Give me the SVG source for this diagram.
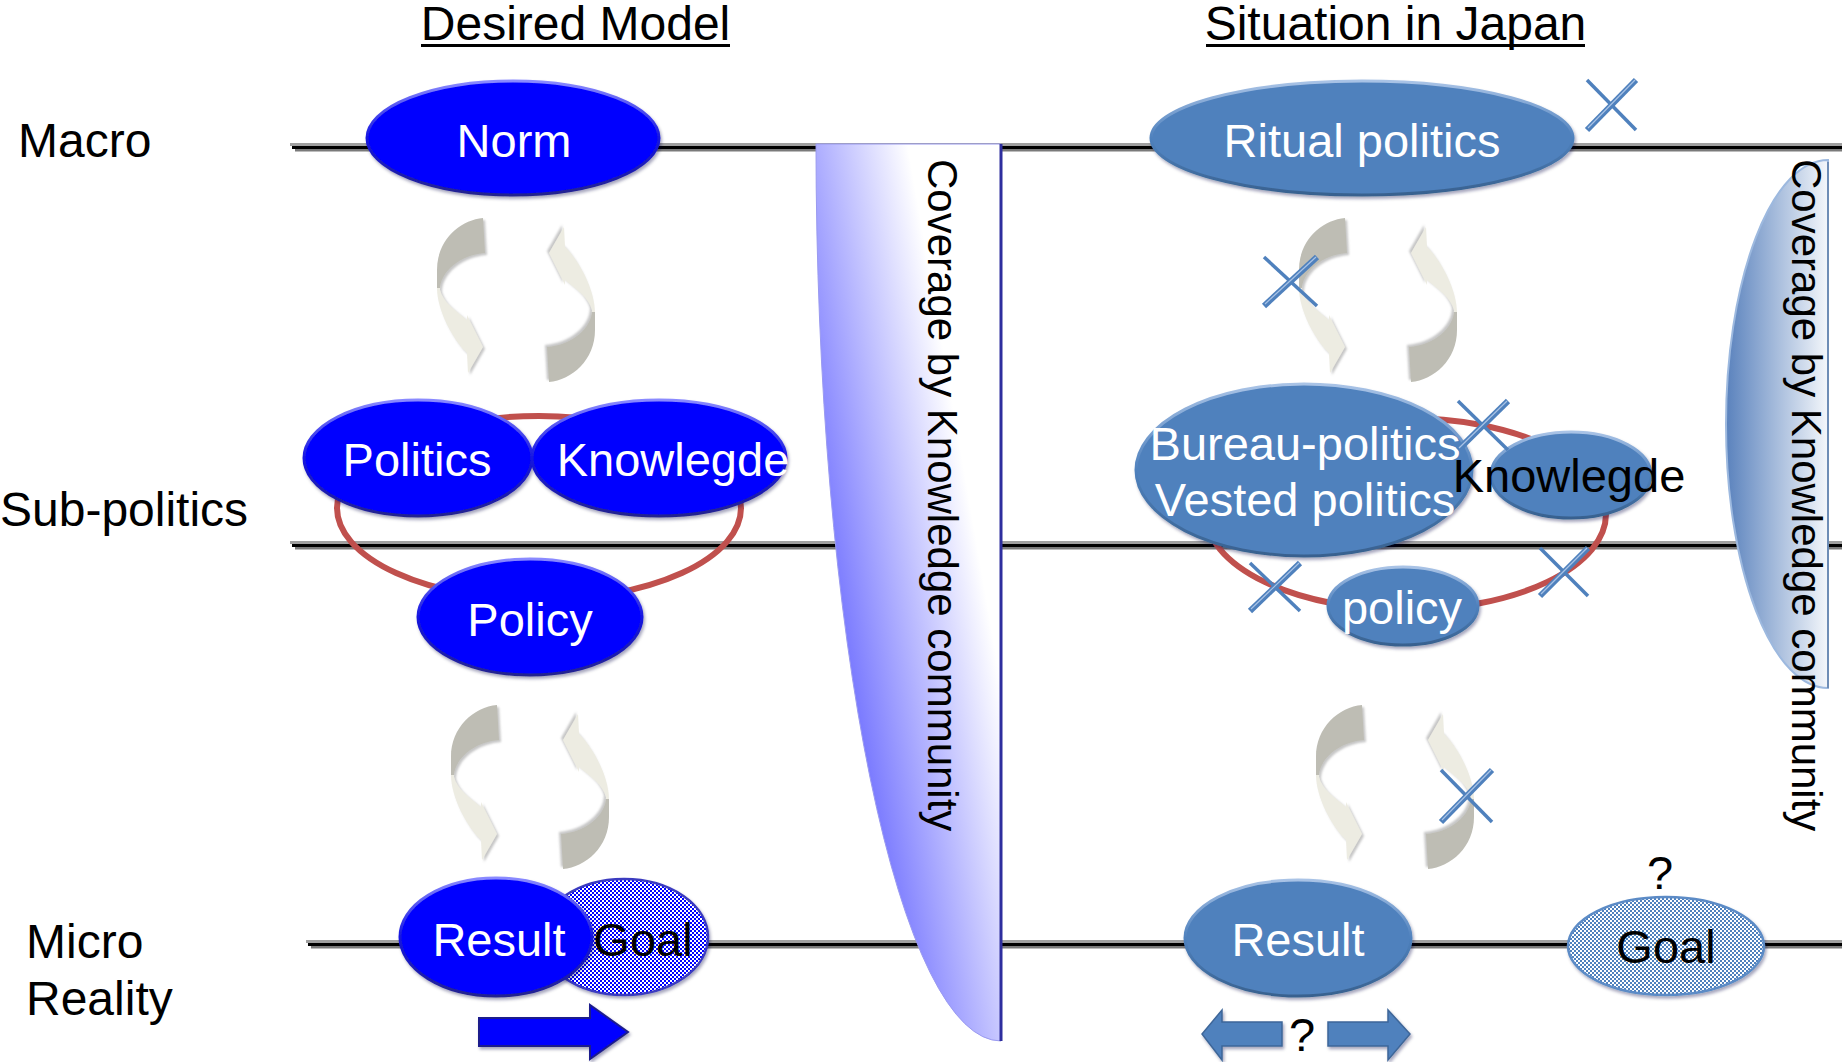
<svg xmlns="http://www.w3.org/2000/svg" width="1846" height="1062" viewBox="0 0 1846 1062">
<style>
text{font-family:"Liberation Sans",Arial,sans-serif}
.lbl{font-size:48px;fill:#000}
.ttl{font-size:48px;fill:#000;text-anchor:middle}
.nt{font-size:47px;fill:#fff;text-anchor:middle}
.nb{font-size:47px;fill:#000;text-anchor:middle}
.cov{font-size:42px;fill:#000}
.blue{fill:#0000FF;stroke:url(#rimB);stroke-width:3;filter:url(#sh)}
.steel{fill:#4F81BD;stroke:url(#rimS);stroke-width:3;filter:url(#sh)}
.ring{fill:none;stroke:#C0504D;stroke-width:6}
.xm{stroke:#4F81BD;stroke-linecap:butt}
.cyc{fill:url(#cycG);filter:url(#sh2)}
</style>
<defs>
<linearGradient id="rimB" x1="0" y1="0" x2="0" y2="1"><stop offset="0" stop-color="#8A8AFF"/><stop offset="0.5" stop-color="#1515E0"/><stop offset="1" stop-color="#23238F"/></linearGradient>
<linearGradient id="rimS" x1="0" y1="0" x2="0" y2="1"><stop offset="0" stop-color="#A9C3E6"/><stop offset="0.5" stop-color="#4F81BD"/><stop offset="1" stop-color="#38618F"/></linearGradient>
<linearGradient id="cycG" x1="0" y1="0" x2="0" y2="1"><stop offset="0" stop-color="#BEBDB4"/><stop offset="0.45" stop-color="#BEBDB4"/><stop offset="0.45" stop-color="#EDECE2"/><stop offset="1" stop-color="#EDECE2"/></linearGradient>
<linearGradient id="covL" gradientUnits="userSpaceOnUse" x1="800" y1="551" x2="973" y2="521"><stop offset="0" stop-color="#6060FF"/><stop offset="1" stop-color="#FFFFFF"/></linearGradient>
<linearGradient id="covR" x1="0" y1="0" x2="1" y2="0"><stop offset="0" stop-color="#5A82BD"/><stop offset="1" stop-color="#F4F7FB"/></linearGradient>
<pattern id="chkB" width="4" height="4" patternUnits="userSpaceOnUse"><rect width="4" height="4" fill="#fff"/><rect width="2" height="2" fill="#0000FF"/><rect x="2" y="2" width="2" height="2" fill="#0000FF"/></pattern>
<pattern id="chkS" width="4" height="4" patternUnits="userSpaceOnUse"><rect width="4" height="4" fill="#fff"/><rect width="2" height="2" fill="#4F81BD"/><rect x="2" y="2" width="2" height="2" fill="#4F81BD"/></pattern>
<filter id="sh" x="-10%" y="-10%" width="125%" height="130%"><feDropShadow dx="1.5" dy="2.5" stdDeviation="1.5" flood-color="#000040" flood-opacity="0.35"/></filter>
<filter id="sh2" x="-20%" y="-10%" width="150%" height="130%"><feDropShadow dx="2" dy="2" stdDeviation="1.2" flood-color="#808080" flood-opacity="0.45"/></filter>
<path id="cyc" d="M 58 8 C 35 10 12 30 12 60 L 12 78 C 12 100 28 130 42 143 L 43 163 L 58 137 L 42 105 L 42 110 C 30 100 18 92 15 80 C 15 62 35 45 60 43 Z"/>
<g id="lvl"><rect x="0" y="-4" width="1552" height="3" fill="#A0A0A0"/><rect x="2" y="-1" width="1550" height="3" fill="#000"/><rect x="5" y="2" width="1547" height="2.5" fill="#7A7A7A"/></g>
</defs>
<rect width="1846" height="1062" fill="#fff"/>

<g id="titles">
<text class="ttl" x="575.5" y="40">Desired Model</text>
<rect x="421" y="44" width="309" height="3" fill="#000"/>
<text class="ttl" x="1395.5" y="40">Situation in Japan</text>
<rect x="1206" y="44" width="379" height="3" fill="#000"/>
</g>

<g id="level-labels">
<text class="lbl" x="18" y="157">Macro</text>
<text class="lbl" x="0" y="526">Sub-politics</text>
<text class="lbl" x="26" y="958">Micro</text>
<text class="lbl" x="26" y="1015">Reality</text>
</g>

<g id="levels">
<use href="#lvl" x="290" y="147"/>
<use href="#lvl" x="290" y="545"/>
<g transform="translate(306 944) scale(0.9897 1)"><use href="#lvl"/></g>
</g>

<g id="rings">
<ellipse class="ring" cx="539" cy="508" rx="202" ry="92"/>
<ellipse class="ring" cx="1406" cy="514" rx="200" ry="96"/>
</g>

<g id="coverage-left">
<path d="M 816 144 L 1001 144 L 1001 1041 A 185 897 0 0 1 816 144 Z" fill="url(#covL)" stroke="#9A9AF0" stroke-width="1"/>
<line x1="1001" y1="144" x2="1001" y2="1041" stroke="#2E2E9E" stroke-width="3"/>
<text class="cov" transform="translate(928 159) rotate(90)">Coverage by Knowledge community</text>
</g>

<g id="coverage-right">
<path d="M 1828 160 A 102 264 0 0 0 1828 688 Z" fill="url(#covR)" stroke="#9DB9DF" stroke-width="2"/>
<line x1="1828" y1="162" x2="1828" y2="688" stroke="#5F7FA8" stroke-width="1.5"/>
<text class="cov" transform="translate(1792 159) rotate(90)">Coverage by Knowledge community</text>
</g>

<g id="connectors">
<g transform="translate(425 210)"><use href="#cyc" class="cyc"/><use href="#cyc" class="cyc" transform="rotate(180 91 90)"/></g>
<g transform="translate(439 697)"><use href="#cyc" class="cyc"/><use href="#cyc" class="cyc" transform="rotate(180 91 90)"/></g>
<g transform="translate(1287 210)"><use href="#cyc" class="cyc"/><use href="#cyc" class="cyc" transform="rotate(180 91 90)"/></g>
<g transform="translate(1304 697)"><use href="#cyc" class="cyc"/><use href="#cyc" class="cyc" transform="rotate(180 91 90)"/></g>
<polygon points="479,1018 590,1018 590,1005 628,1032 590,1059 590,1046 479,1046" fill="#0000FF" stroke="#1E1E8C" stroke-width="2" filter="url(#sh)"/>
<polygon points="1282,1022 1222,1022 1222,1010 1202,1034 1222,1060 1222,1046 1282,1046" fill="#4F81BD" stroke="#3E6699" stroke-width="1.5" filter="url(#sh)"/>
<polygon points="1328,1022 1388,1022 1388,1010 1410,1034 1388,1060 1388,1046 1328,1046" fill="#4F81BD" stroke="#3E6699" stroke-width="1.5" filter="url(#sh)"/>
</g>

<g id="node-norm"><ellipse class="blue" cx="513" cy="138" rx="146" ry="57"/><text class="nt" x="514" y="157">Norm</text></g>
<g id="node-politics"><ellipse class="blue" cx="418" cy="458" rx="114" ry="58"/><text class="nt" x="417" y="476">Politics</text></g>
<g id="node-knowledge"><ellipse class="blue" cx="659" cy="458" rx="127" ry="58"/><text class="nt" x="673" y="476">Knowlegde</text></g>
<g id="node-policy"><ellipse class="blue" cx="530" cy="617" rx="112" ry="58"/><text class="nt" x="530" y="636">Policy</text></g>
<g id="node-goal-left"><ellipse cx="624" cy="937" rx="84" ry="58" fill="url(#chkB)" stroke="#3A3AC0" stroke-width="2.5" filter="url(#sh)"/><text class="nb" x="643" y="956">Goal</text></g>
<g id="node-result-left"><ellipse class="blue" cx="496" cy="937" rx="96" ry="59"/><text class="nt" x="499" y="956">Result</text></g>

<g id="node-ritual"><ellipse class="steel" cx="1362" cy="138" rx="211" ry="57"/><text class="nt" x="1362" y="157">Ritual politics</text></g>
<g id="node-bureau"><ellipse class="steel" cx="1304" cy="470" rx="168" ry="86"/><text class="nt" x="1305" y="460">Bureau-politics</text><text class="nt" x="1305" y="516">Vested politics</text></g>
<g id="node-knowledge-right"><ellipse class="steel" cx="1571" cy="475" rx="80" ry="43"/><text class="nb" x="1569" y="492">Knowlegde</text></g>
<g id="node-policy-right"><ellipse class="steel" cx="1403" cy="606" rx="75" ry="39"/><text class="nt" x="1402" y="624">policy</text></g>
<g id="node-result-right"><ellipse class="steel" cx="1298" cy="938" rx="113" ry="58"/><text class="nt" x="1298" y="956">Result</text></g>
<g id="node-goal-right"><ellipse cx="1666" cy="946" rx="98" ry="49" fill="url(#chkS)" stroke="#5B8BC6" stroke-width="2.5" filter="url(#sh)"/><text class="nb" x="1666" y="963">Goal</text></g>

<g id="questions">
<text class="nb" x="1660" y="889">?</text>
<text class="nb" x="1302" y="1051">?</text>
</g>

<g id="x-marks">
<g><line class="xm" x1="1587" y1="80" x2="1636" y2="130" stroke-width="3.5"/><line class="xm" x1="1587" y1="130" x2="1636" y2="80" stroke-width="6"/><line x1="1588" y1="128" x2="1635" y2="80" stroke="#A9C3E6" stroke-width="1.2"/></g>
<g><line class="xm" x1="1264" y1="257" x2="1317" y2="306" stroke-width="3.5"/><line class="xm" x1="1264" y1="306" x2="1317" y2="257" stroke-width="6"/><line x1="1265" y1="304" x2="1316" y2="257" stroke="#A9C3E6" stroke-width="1.2"/></g>
<g><line class="xm" x1="1458" y1="401" x2="1508" y2="450" stroke-width="3.5"/><line class="xm" x1="1458" y1="450" x2="1508" y2="401" stroke-width="6"/><line x1="1459" y1="448" x2="1507" y2="401" stroke="#A9C3E6" stroke-width="1.2"/></g>
<g><line class="xm" x1="1250" y1="563" x2="1300" y2="611" stroke-width="3.5"/><line class="xm" x1="1250" y1="611" x2="1300" y2="563" stroke-width="6"/><line x1="1251" y1="609" x2="1299" y2="563" stroke="#A9C3E6" stroke-width="1.2"/></g>
<g><line class="xm" x1="1540" y1="548" x2="1588" y2="596" stroke-width="3.5"/><line class="xm" x1="1540" y1="596" x2="1588" y2="548" stroke-width="6"/><line x1="1541" y1="594" x2="1587" y2="548" stroke="#A9C3E6" stroke-width="1.2"/></g>
<g><line class="xm" x1="1441" y1="770" x2="1492" y2="822" stroke-width="3.5"/><line class="xm" x1="1441" y1="822" x2="1492" y2="770" stroke-width="6"/><line x1="1442" y1="820" x2="1491" y2="770" stroke="#A9C3E6" stroke-width="1.2"/></g>
</g>
</svg>
